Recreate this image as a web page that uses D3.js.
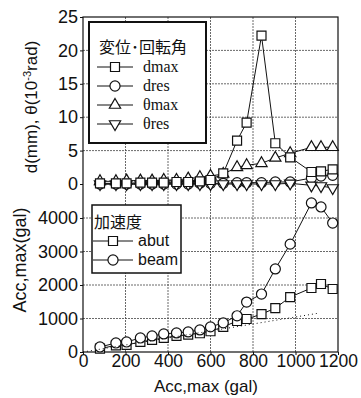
<!DOCTYPE html>
<html>
<head>
<meta charset="utf-8">
<script src="https://cdn.jsdelivr.net/npm/d3@7"></script>
<style>
  body { margin: 0; background: #fff; }
  text { font-family: "Liberation Sans", Arial, sans-serif; fill: #111; }
</style>
</head>
<body>
<svg id="chart" width="361" height="398"></svg>
<script>
// input acceleration (x) for every run
var accIn = [80, 155, 205, 270, 325, 380, 440, 495, 550, 600, 660, 725, 770, 840, 905, 975, 1075, 1120, 1175];

// top panel: displacement (mm) / rotation (1e-3 rad)
var dmax     = [0.1, 0.1, 0.1, 0.2, 0.2, 0.2, 0.3, 0.3, 0.4, 0.6, 1.6, 6.5, 9.2, 22.2, 6.1, 4.0, 1.8, 1.9, 2.2];
var dres     = [0, 0, 0, 0, 0, 0, 0, 0, 0.1, 0.1, 0.1, 0.2, 0.2, 0.2, 0.3, 0.3, 0.9, 1.2, 1.3];
var thetaMax = [0.4, 0.4, 0.5, 0.5, 0.5, 0.6, 0.6, 0.8, 1.0, 1.2, 1.5, 2.5, 2.8, 3.1, 3.9, 4.6, 5.5, 5.5, 5.5];
var thetaRes = [0, 0, 0, 0, 0, 0, 0, 0, 0, 0, 0, 0, 0, 0, 0, 0.1, -0.2, -0.3, -0.6];

// bottom panel: response acceleration (gal)
var abut = [100, 200, 210, 300, 360, 420, 480, 520, 560, 620, 750, 925, 985, 1130, 1310, 1640, 1910, 2030, 1880];
var beam = [150, 270, 300, 420, 480, 540, 570, 600, 660, 750, 870, 1080, 1490, 1730, 2480, 3220, 4450, 4330, 3850];

// dotted reference line
var refX = [0, 1100];
var refY = [0, 1150];

var xTicks = [0, 200, 400, 600, 800, 1000, 1200];
var topTicks = [0, 5, 10, 15, 20, 25];
var botTicks = [0, 1000, 2000, 3000, 4000];

var svg = d3.select("#chart");
var pLeft = 83, pRight = 338, pTop = 17, pBottom = 352;

var x = d3.scaleLinear().domain([0, 1200]).range([pLeft, pRight]);
var yTop = d3.scaleLinear().domain([0, 25]).range([184, pTop]);
var yBot = d3.scaleLinear().domain([0, 4000]).range([pBottom, 218]);

// grid
var grid = svg.append("g").attr("stroke", "#444").attr("stroke-width", 0.8).attr("stroke-dasharray", "2,1");
xTicks.slice(1, -1).forEach(function(t) {
  grid.append("line").attr("x1", x(t)).attr("x2", x(t)).attr("y1", pTop).attr("y2", pBottom);
});
topTicks.slice(1, -1).forEach(function(t) {
  grid.append("line").attr("x1", pLeft).attr("x2", pRight).attr("y1", yTop(t)).attr("y2", yTop(t));
});
botTicks.slice(1).forEach(function(t) {
  grid.append("line").attr("x1", pLeft).attr("x2", pRight).attr("y1", yBot(t)).attr("y2", yBot(t));
});

// frame
svg.append("rect").attr("x", pLeft).attr("y", pTop).attr("width", pRight - pLeft).attr("height", pBottom - pTop)
  .attr("fill", "none").attr("stroke", "#111").attr("stroke-width", 1.2);

// axes
function styleAxis(size) {
  return function(g) {
    g.select(".domain").remove();
    g.selectAll("text").style("font-size", size).attr("fill", "#111");
    g.selectAll("line").attr("stroke", "#111");
  };
}
svg.append("g").attr("transform", "translate(0," + pBottom + ")")
  .call(d3.axisBottom(x).tickValues(xTicks).tickSize(3).tickPadding(0).tickFormat(d3.format("d")))
  .call(styleAxis("17.5px"));
svg.append("g").attr("transform", "translate(" + pLeft + ",0)")
  .call(d3.axisLeft(yTop).tickValues(topTicks).tickSize(3).tickPadding(2))
  .call(styleAxis("18px"));
svg.append("g").attr("transform", "translate(" + pLeft + ",0)")
  .call(d3.axisLeft(yBot).tickValues(botTicks).tickSize(3).tickPadding(2).tickFormat(d3.format("d")))
  .call(styleAxis("18px"));

// axis titles
var yl = svg.append("text").attr("transform", "translate(37,107) rotate(-90)")
  .attr("text-anchor", "middle").style("font-size", "17px");
yl.append("tspan").text("d(mm), θ(10");
yl.append("tspan").attr("dy", -6).style("font-size", "11px").text("-3");
yl.append("tspan").attr("dy", 6).text("rad)");

svg.append("text").attr("transform", "translate(26,260) rotate(-90)")
  .attr("text-anchor", "middle").style("font-size", "18px").text("Acc,max(gal)");
svg.append("text").attr("x", 206).attr("y", 392)
  .attr("text-anchor", "middle").style("font-size", "17px").text("Acc,max (gal)");

// symbols
var shapes = {
  square: d3.symbol().type(d3.symbolSquare).size(81),
  circle: d3.symbol().type(d3.symbolCircle).size(80),
  up: d3.symbol().type(d3.symbolTriangle).size(55),
  down: d3.symbol().type(d3.symbolTriangle).size(55)
};
function marker(g, kind, cx, cy) {
  g.append("path").attr("d", shapes[kind]())
    .attr("transform", "translate(" + cx + "," + cy + ")" + (kind === "down" ? " rotate(180)" : ""))
    .attr("fill", "#fff").attr("stroke", "#111").attr("stroke-width", 1.2);
}

function series(values, yScale, kind) {
  var g = svg.append("g");
  var pts = accIn.map(function(a, i) { return [x(a), yScale(values[i])]; });
  g.append("path").attr("d", d3.line()(pts)).attr("fill", "none").attr("stroke", "#111").attr("stroke-width", 1);
  pts.forEach(function(p) { marker(g, kind, p[0], p[1]); });
}

series(dres, yTop, "circle");
series(thetaRes, yTop, "down");
series(thetaMax, yTop, "up");
series(dmax, yTop, "square");

series(abut, yBot, "square");
series(beam, yBot, "circle");

svg.append("path")
  .attr("d", d3.line()(refX.map(function(v, i) { return [x(v), yBot(refY[i])]; })))
  .attr("fill", "none").attr("stroke", "#111").attr("stroke-width", 1).attr("stroke-dasharray", "1,3");

// legends
function legend(box, title, titleFont, items, lineX, markX, textX, textFont) {
  var g = svg.append("g");
  g.append("rect").attr("x", box[0]).attr("y", box[1]).attr("width", box[2]).attr("height", box[3])
    .attr("fill", "#fff").attr("stroke", "#111").attr("stroke-width", box[4]);
  g.append("text").attr("x", title.x).attr("y", title.y).style("font-family", titleFont)
    .style("font-size", "16px").text(title.text);
  items.forEach(function(it) {
    g.append("line").attr("x1", lineX[0]).attr("x2", lineX[1]).attr("y1", it.y).attr("y2", it.y)
      .attr("stroke", "#111").attr("stroke-width", 1);
    marker(g, it.kind, markX, it.y);
    g.append("text").attr("x", textX).attr("y", it.y + 5).style("font-family", textFont)
      .style("font-size", "16px").text(it.label);
  });
}

legend([89, 22, 117, 121, 2], { x: 99, y: 53, text: "変位･回転角" }, "'Noto Sans CJK JP'",
  [{ kind: "square", label: "dmax", y: 67 },
   { kind: "circle", label: "dres", y: 86 },
   { kind: "up", label: "θmax", y: 105 },
   { kind: "down", label: "θres", y: 124 }],
  [97, 133], 115, 143, "'Liberation Serif', serif");

legend([92, 205, 89, 68, 1.5], { x: 94, y: 228, text: "加速度" }, "'Noto Sans CJK JP'",
  [{ kind: "square", label: "abut", y: 241 },
   { kind: "circle", label: "beam", y: 260 }],
  [93, 133], 113, 138, "'Liberation Sans', sans-serif");
</script>
</body>
</html>
